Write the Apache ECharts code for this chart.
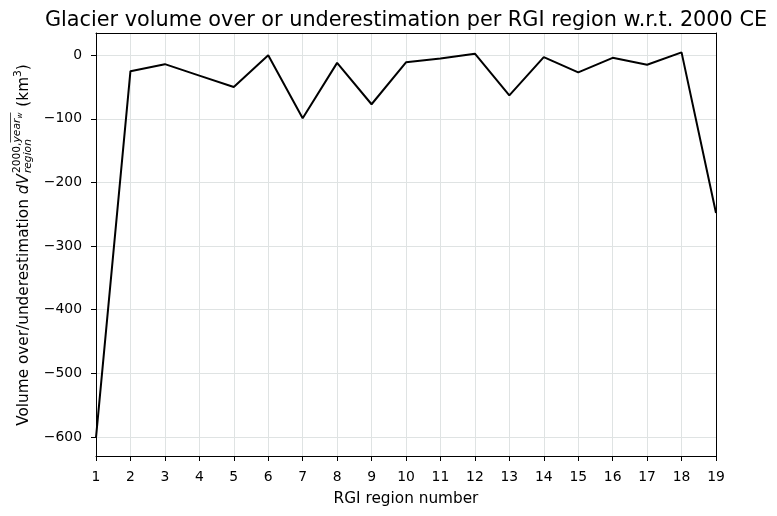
<!DOCTYPE html>
<html><head><meta charset="utf-8">
<script src="https://cdn.jsdelivr.net/npm/echarts@6/dist/echarts.min.js"></script>
<style>html,body{margin:0;padding:0;background:#fff}#c{width:777px;height:516px}</style>
</head><body><div id="c"></div>
<script>
const regions = [1,2,3,4,5,6,7,8,9,10,11,12,13,14,15,16,17,18,19];
const volumeDiff = [-601,-25,-14,-32,-50,0,-99,-12,-77,-11,-5,2.5,-63,-3,-27,-4,-15,4.5,-248];
const yTicks = [0,-100,-200,-300,-400,-500,-600];

const FONT = 'DejaVu Sans';
const ctx = document.createElement('canvas').getContext('2d');
function tw(t, f){ ctx.font = f; return ctx.measureText(t).width; }

// y label composed (mathtext style)
const base = 15.3, small = 10.7, tiny = 7.5;
const parts = [];
let x = 0;
function add(text, size, italic, dy){
  const f = (italic?'italic ':'') + size + 'px "' + FONT + '"';
  const w = tw(text, f);
  parts.push({text, size, italic, x, dy, w});
  x += w;
  return w;
}
add('Volume over/underestimation ', base, false, 0);
add('dV', base, true, 0);
const supStart = x + 1;
x = supStart;
add('2000,', small, false, -6.5);
const yearStart = x;
add('year', small, true, -6.5);
add('w', tiny, true, -3.5);
const supEnd = x;
x = supStart;
add('region', small, true, 4.5);
const subEnd = x;
x = Math.max(supEnd, subEnd) + 1;
add(' (km', base, false, 0);
add('3', small, false, -6);
add(')', base, false, 0);
const total = x;
const labelChildren = parts.map(p => ({
  type: 'text', x: p.x - total/2, y: p.dy,
  style: { text: p.text, fill: '#000', font: (p.italic?'italic ':'') + p.size + 'px "' + FONT + '"', verticalAlign: 'middle', align: 'left' }
}));
labelChildren.push({ type: 'line', shape: { x1: yearStart - total/2, y1: -13.5, x2: supEnd - total/2, y2: -13.5 }, style: { stroke: '#000', lineWidth: 0.7 } });

const spine = { show: true, onZero: false, lineStyle: { color: '#000', width: 1 } };
const chart = echarts.init(document.getElementById('c'), null, {renderer: 'canvas'});
chart.setOption({
  animation: false,
  title: {
    text: 'Glacier volume over or underestimation per RGI region w.r.t. 2000 CE',
    left: 406, textAlign: 'center', top: 10, padding: 0,
    textStyle: { fontFamily: FONT, fontSize: 20.8, fontWeight: 'normal', color: '#000' }
  },
  grid: { left: 96, right: 61, top: 33, bottom: 60, show: false },
  xAxis: [{
    type: 'value', min: 1, max: 19, interval: 1,
    name: 'RGI region number', nameLocation: 'middle', nameGap: 36,
    nameTextStyle: { fontFamily: FONT, fontSize: 15.3, color: '#000' },
    axisLine: spine,
    axisTick: { show: true, inside: false, length: 5, lineStyle: { color: '#000' } },
    axisLabel: { fontFamily: FONT, fontSize: 13.9, color: '#000', margin: 14 },
    splitLine: { show: true, lineStyle: { color: '#dfe3e3', width: 1 } }
  }, {
    type: 'value', min: 1, max: 19, position: 'top', axisLine: spine,
    axisTick: { show: false }, axisLabel: { show: false }, splitLine: { show: false }
  }],
  yAxis: [{
    type: 'value', min: -630, max: 35,
    axisLine: spine,
    axisTick: { show: true, inside: false, length: 5, customValues: yTicks, lineStyle: { color: '#000' } },
    axisLabel: { fontFamily: FONT, fontSize: 13.9, color: '#000', margin: 14, customValues: yTicks,
      formatter: v => String(v).replace('-', '\u2212') },
    splitLine: { show: true, lineStyle: { color: '#dfe3e3', width: 1 } }
  }, {
    type: 'value', min: -630, max: 35, position: 'right', axisLine: spine,
    axisTick: { show: false }, axisLabel: { show: false }, splitLine: { show: false }
  }],
  graphic: [{
    type: 'group', x: 24, y: 245, rotation: Math.PI/2, children: labelChildren
  }],
  series: [{
    type: 'line', data: regions.map((r, i) => [r, volumeDiff[i]]),
    xAxisIndex: 0, yAxisIndex: 0,
    showSymbol: false, symbol: 'none',
    lineStyle: { color: '#000', width: 2 }, clip: true
  }]
});
</script></body></html>
